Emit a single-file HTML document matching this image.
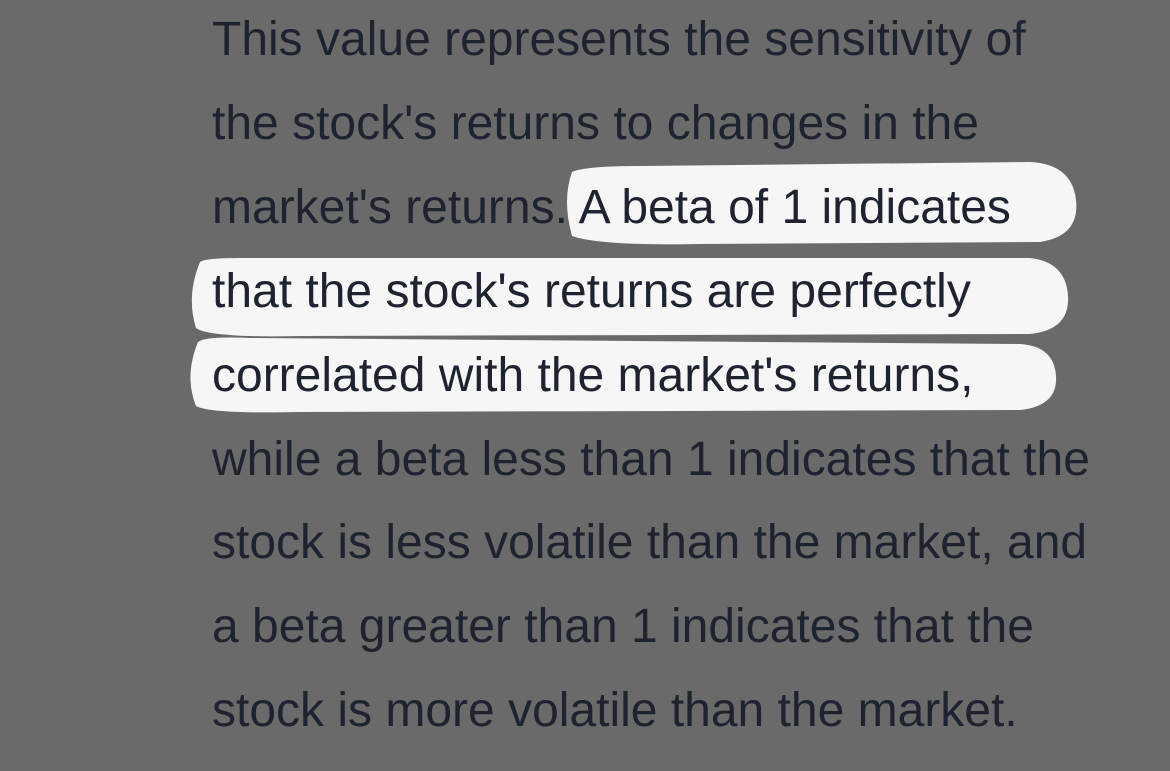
<!DOCTYPE html>
<html><head><meta charset="utf-8">
<style>
html,body{margin:0;padding:0;}
body{width:1170px;height:771px;background:#6a6a6a;position:relative;overflow:hidden;font-family:"Liberation Sans",sans-serif;}
svg{position:absolute;left:0;top:0;}
.line{position:absolute;left:212px;font-size:48px;color:#1f2330;white-space:nowrap;line-height:1;}
</style></head>
<body>
<svg width="1170" height="771">
  <path d="M572,172 Q562,200 572,236 Q600,246 700,244 L1040,242 Q1080,236 1076,200 Q1072,164 1030,162 L640,166 Q585,166 572,172 Z" fill="#f6f6f6"/>
  <path d="M200,262 Q186,296 196,328 Q210,338 300,336 L1030,334 Q1070,330 1068,296 Q1066,262 1030,258 L240,258 Q205,258 200,262 Z" fill="#f6f6f6"/>
  <path d="M198,342 Q184,376 196,406 Q210,414 300,412 L1020,410 Q1058,406 1056,376 Q1054,346 1020,344 L250,338 Q205,336 198,342 Z" fill="#f6f6f6"/>
</svg>
<div class="line" style="top:16px">This value represents the sensitivity of</div>
<div class="line" style="top:100px">the stock's returns to changes in the</div>
<div class="line" style="top:184px">market's returns. A beta of 1 indicates</div>
<div class="line" style="top:268px">that the stock's returns are perfectly</div>
<div class="line" style="top:352px">correlated with the market's returns,</div>
<div class="line" style="top:436px">while a beta less than 1 indicates that the</div>
<div class="line" style="top:519px">stock is less volatile than the market, and</div>
<div class="line" style="top:603px">a beta greater than 1 indicates that the</div>
<div class="line" style="top:687px">stock is more volatile than the market.</div>
</body></html>
